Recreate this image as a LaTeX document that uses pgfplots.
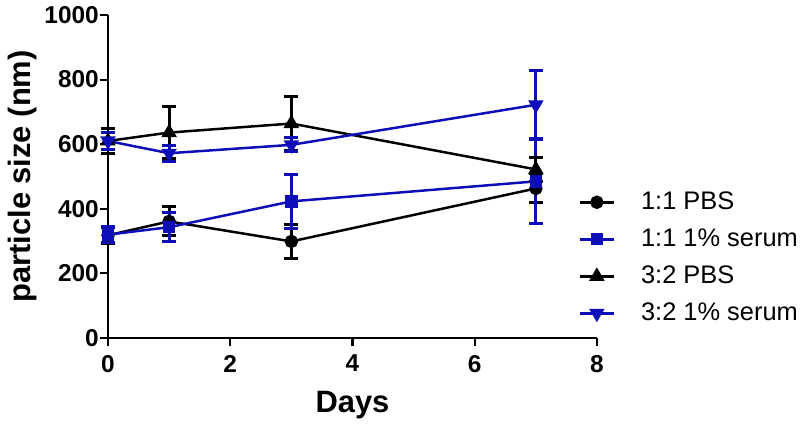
\documentclass[border=0pt]{standalone}
\usepackage{fontspec}
\setmainfont{Liberation Sans}
\usepackage{pgfplots}
\pgfplotsset{compat=1.18}
\definecolor{serblue}{RGB}{14,14,185}

\pgfplotstableread{
x y ey
0 318 25
1 361 45
3 299 52
7 463 45
}\pbsA
\pgfplotstableread{
x y ey
0 320 25
1 343 45
3 423 83
7 485 130
}\serA
\pgfplotstableread{
x y ey
0 610 40
1 636 80
3 664 83
7 522 38
}\pbsB
\pgfplotstableread{
x y ey
0 610 25
1 572 25
3 598 22
7 722 105
}\serB

\begin{document}
\begin{tikzpicture}
\begin{axis}[
    name=ax,
    scale only axis,
    width=489bp, height=323bp,
    xmin=0, xmax=8, ymin=0, ymax=1000,
    xtick={0,2,4,6,8}, ytick={0,200,400,600,800,1000},
    axis lines=left,
    axis line style={line width=2.4pt, -},
    tick style={line width=2.2pt, black},
    tick align=outside, major tick length=8bp,
    /pgf/number format/assume math mode=true,
    /pgf/number format/1000 sep={},
    tick label style={font=\fontsize{24.5}{26}\selectfont\bfseries},
    yticklabel style={inner sep=1bp},
    xticklabel style={inner sep=0bp, yshift=-9bp},
    xlabel={Days}, ylabel={particle size (nm)},
    label style={font=\fontsize{31}{33}\selectfont\bfseries},
    ylabel style={at={(axis description cs:-0.174,0.5)}, anchor=center},
    xlabel style={at={(axis description cs:0.5,0)}, yshift=-74bp, anchor=base},
    clip=false,
    legend style={draw=none, fill=none, at={(0.962,0.458)}, anchor=north west,
        inner sep=0pt, font=\fontsize{25.5}{28}\selectfont, row sep=13bp,
        nodes={inner sep=0pt, text height=19bp, text depth=5bp},
        /tikz/every odd column/.style={column sep=26bp},
        legend cell align=left},
    legend image code/.code={%
        \draw[mark repeat=2, mark phase=2, #1] plot coordinates {(0bp,0bp) (17bp,0bp) (34bp,0bp)};},
    every axis plot/.append style={line width=2.5pt,
        /pgfplots/error bars/y dir=both, /pgfplots/error bars/y explicit,
        /pgfplots/error bars/error bar style={line width=2.8pt},
        /pgfplots/error bars/error mark options={rotate=90, mark size=7pt, line width=3pt}},
]
\addplot[black, mark=*, mark size=5.5pt] table[x=x,y=y,y error=ey] {\pbsA};
\addlegendentry{1:1 PBS}
\addplot[serblue, mark=square*, mark size=5pt] table[x=x,y=y,y error=ey] {\serA};
\addlegendentry{1:1 1\% serum}
\addplot[black, mark=triangle*, mark size=6.5pt] table[x=x,y=y,y error=ey] {\pbsB};
\addlegendentry{3:2 PBS}
\addplot[serblue, mark=triangle*, mark size=6.5pt, mark options={rotate=180}] table[x=x,y=y,y error=ey] {\serB};
\addlegendentry{3:2 1\% serum}
\end{axis}
\pgfresetboundingbox
\path[use as bounding box] (ax.south west) ++(-108bp,-88bp) rectangle ++(800bp,426bp);
\end{tikzpicture}
\end{document}
